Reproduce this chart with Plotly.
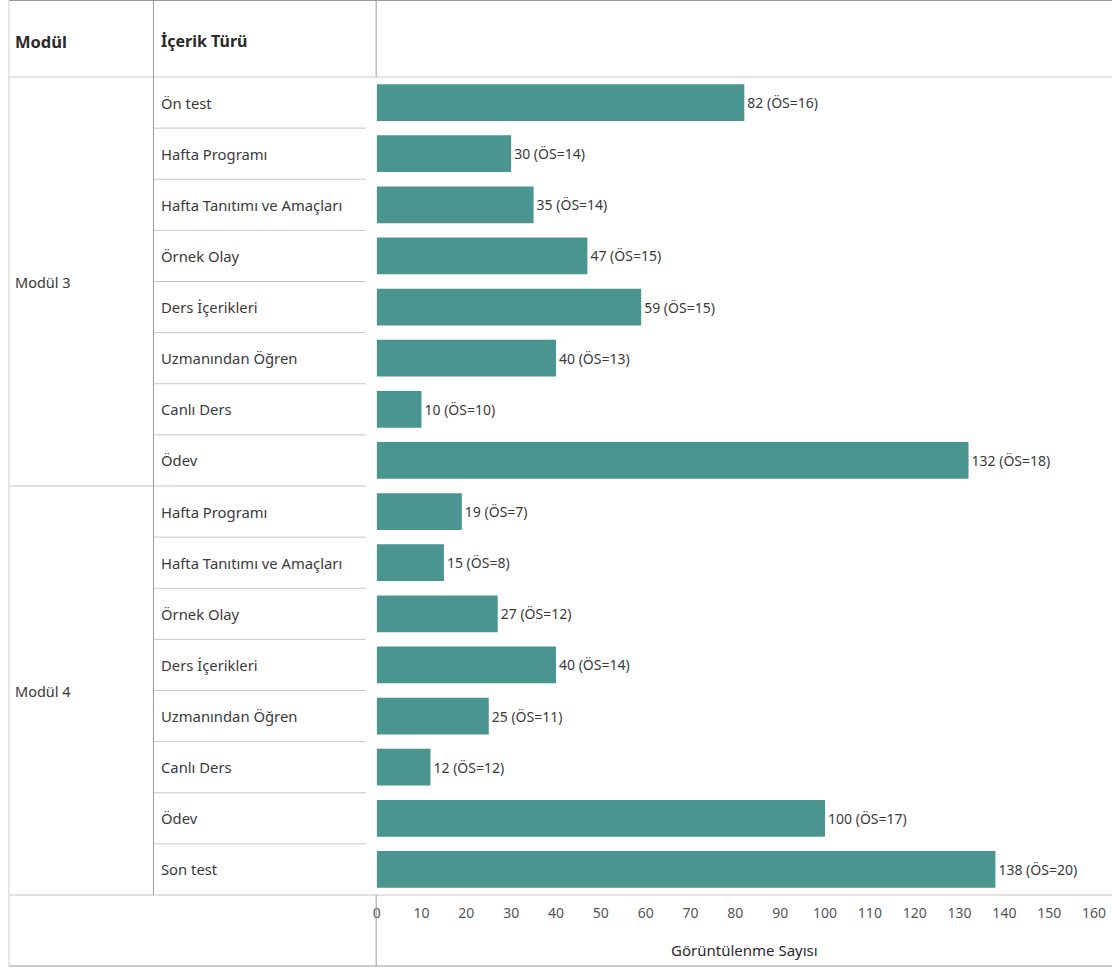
import plotly.graph_objects as go

modules = ["Modül 3", "Modül 4"]
module_sizes = [8, 8]
content = ["Ön test", "Hafta Programı", "Hafta Tanıtımı ve Amaçları", "Örnek Olay",
           "Ders İçerikleri", "Uzmanından Öğren", "Canlı Ders", "Ödev",
           "Hafta Programı", "Hafta Tanıtımı ve Amaçları", "Örnek Olay", "Ders İçerikleri",
           "Uzmanından Öğren", "Canlı Ders", "Ödev", "Son test"]
views = [82, 30, 35, 47, 59, 40, 10, 132, 19, 15, 27, 40, 25, 12, 100, 138]
os_n = [16, 14, 14, 15, 15, 13, 10, 18, 7, 8, 12, 14, 11, 12, 17, 20]
tick_vals = list(range(0, 170, 10))

W, H = 1112, 968
X_OFF = -3
FONT = "Noto Sans"
BAR = "#4a958f"
LINE = "#c8c8c8"
DARK = "#9a9a9a"
TXT = "#3a3a3a"

def px(x):
    return (x + X_OFF) / W

def py(y):
    return 1 - y / H

rows = list(range(len(content)))
labels = [f"{v} (ÖS={o})" for v, o in zip(views, os_n)]

fig = go.Figure(go.Bar(
    x=views, y=rows, orientation="h", marker=dict(color=BAR, line=dict(width=0)),
    width=0.72, text=labels, textposition="outside", cliponaxis=False,
    textfont=dict(family=FONT, size=14, color=TXT), hoverinfo="skip"))

shapes = []
def hline(y, x0, x1, color=LINE, yref="paper", w=1):
    shapes.append(dict(type="line", xref="paper", yref=yref, x0=px(x0), x1=min(px(x1), 1),
                       y0=y, y1=y, line=dict(color=color, width=w)))
def vline(x, y0, y1, color=DARK, w=1):
    shapes.append(dict(type="line", xref="paper", yref="paper", x0=px(x), x1=px(x),
                       y0=py(y0), y1=py(y1), line=dict(color=color, width=w)))

hline(py(0.5), 8, W + 3, color=DARK)
hline(py(77), 8, W + 3)
hline(py(895), 8, W + 3)
hline(py(966), 8, W + 3, color=DARK)
start = 0
for i, n in enumerate(module_sizes):
    for k in range(1, n):
        hline(start + k - 0.5, 153, 366, yref="y")
    if i < len(module_sizes) - 1:
        hline(start + n - 0.5, 8, 366, yref="y")
    start += n
vline(8, 0, 966, color="#d0d0d0")
vline(153, 0, 895)
vline(376.5, 0, 77)
vline(376.5, 895, 966)

annotations = []
for i, c in enumerate(content):
    annotations.append(dict(text=c, x=px(159), xref="paper", y=i, yref="y", xanchor="left",
                            yanchor="middle", showarrow=False,
                            font=dict(family=FONT, size=14.8, color=TXT)))
start = 0
for m, n in zip(modules, module_sizes):
    annotations.append(dict(text=m, x=px(12), xref="paper", y=start + (n - 1) / 2, yref="y",
                            xanchor="left", yanchor="middle", showarrow=False,
                            font=dict(family=FONT, size=14.5, color=TXT)))
    start += n
annotations.append(dict(text="<b>Modül</b>", x=px(12), y=py(41), xref="paper", yref="paper",
                        xanchor="left", yanchor="middle", showarrow=False,
                        font=dict(family=FONT, size=16.5, color="#2a2a2a")))
annotations.append(dict(text="<b>İçerik Türü</b>", x=px(159), y=py(41), xref="paper", yref="paper",
                        xanchor="left", yanchor="middle", showarrow=False,
                        font=dict(family=FONT, size=16, color="#2a2a2a")))
annotations.append(dict(text="Görüntülenme Sayısı", x=px(746), y=py(950), xref="paper", yref="paper",
                        xanchor="center", yanchor="middle", showarrow=False,
                        font=dict(family=FONT, size=15, color="#2a2a2a")))

fig.update_layout(
    width=W, height=H, margin=dict(l=0, r=0, t=0, b=0),
    paper_bgcolor="white", plot_bgcolor="white", showlegend=False,
    shapes=shapes, annotations=annotations,
    xaxis=dict(domain=[px(377), 1], range=[0, 164.0], tickvals=tick_vals, showgrid=False,
               zeroline=False, showline=False, ticks="", ticklabelstandoff=8,
               tickfont=dict(family=FONT, size=14, color="#555555"), fixedrange=True),
    yaxis=dict(domain=[py(895), py(77)], range=[15.5, -0.5], showticklabels=False,
               showgrid=False, zeroline=False, showline=False, ticks="", fixedrange=True),
)

fig.write_html("out.html", config={"displayModeBar": False},
               post_script="document.body.style.margin='0px';")
